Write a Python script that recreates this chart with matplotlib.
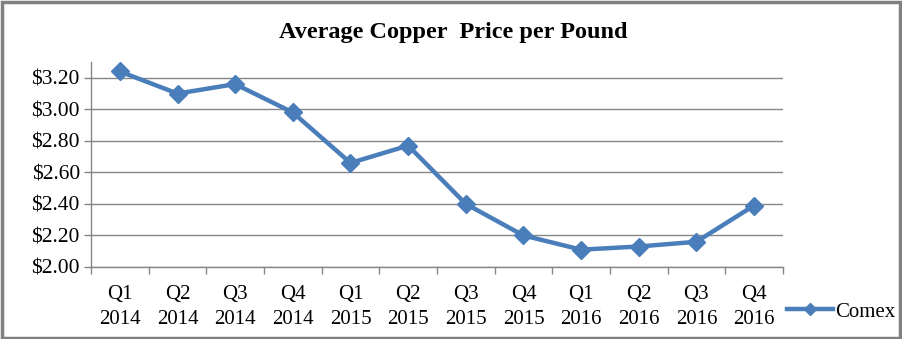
import matplotlib
matplotlib.use("Agg")
import matplotlib.pyplot as plt
from matplotlib.lines import Line2D
from matplotlib.patches import Rectangle
from matplotlib.ticker import FixedLocator, FuncFormatter

quarters = ["Q1", "Q2", "Q3", "Q4", "Q1", "Q2", "Q3", "Q4", "Q1", "Q2", "Q3", "Q4"]
years = ["2014", "2014", "2014", "2014", "2015", "2015", "2015", "2015",
         "2016", "2016", "2016", "2016"]
comex = [3.24, 3.10, 3.16, 2.98, 2.66, 2.77, 2.40, 2.20, 2.11, 2.13, 2.16, 2.39]
y_ticks = [2.00, 2.20, 2.40, 2.60, 2.80, 3.00, 3.20]

serif = ["Liberation Serif", "DejaVu Serif"]
blue = "#4A7EBB"
grey = "#868686"

fig = plt.figure(figsize=(9.03, 3.39), dpi=100)
ax = fig.add_axes([0.1008, 0.2124, 0.7662, 0.6046])

x = list(range(len(comex)))
ax.plot(x, comex, color=blue, lw=3.2, marker="D", ms=9.5, mfc=blue, mec=blue,
        solid_joinstyle="round", zorder=3)

ax.set_xlim(-0.5, len(comex) - 0.5)
ax.set_ylim(2.0, 3.3)
ax.yaxis.set_major_locator(FixedLocator(y_ticks))
ax.yaxis.set_major_formatter(FuncFormatter(lambda v, p: f"${v:.2f}"))
ax.grid(axis="y", color=grey, lw=1.0)
ax.set_axisbelow(True)

ax.set_xticks(x)
ax.set_xticklabels([f"{q}\n{y}" for q, y in zip(quarters, years)],
                   family=serif, fontsize=15, linespacing=1.45)
ax.tick_params(axis="x", which="major", length=0, pad=13)
ax.set_xticks([i - 0.5 for i in range(len(comex) + 1)], minor=True)
ax.tick_params(axis="x", which="minor", length=5, color=grey, width=1)
ax.tick_params(axis="y", length=5, color=grey, width=1, pad=3)
for lab in ax.get_yticklabels():
    lab.set_family(serif)
    lab.set_fontsize(15.5)

for s in ["top", "right"]:
    ax.spines[s].set_visible(False)
for s in ["left", "bottom"]:
    ax.spines[s].set_color(grey)
    ax.spines[s].set_linewidth(1)

fig.text(0.502, 0.905, "Average Copper  Price per Pound", ha="center", va="center",
         family=serif, fontsize=17.5, fontweight="bold")

handle = Line2D([], [], color=blue, lw=3.2, marker="D", ms=6, mfc=blue, mec=blue)
fig.legend([handle], ["Comex"], loc="center left", bbox_to_anchor=(0.862, 0.08),
           frameon=False, prop={"family": serif, "size": 15},
           handlelength=2.2, handletextpad=0.1, borderaxespad=0)

fig.patches.append(Rectangle((0.002, 0.004), 0.995, 0.991, transform=fig.transFigure,
                             fill=False, edgecolor="#808080", lw=2.5))

fig.savefig("out.png", dpi=100)
